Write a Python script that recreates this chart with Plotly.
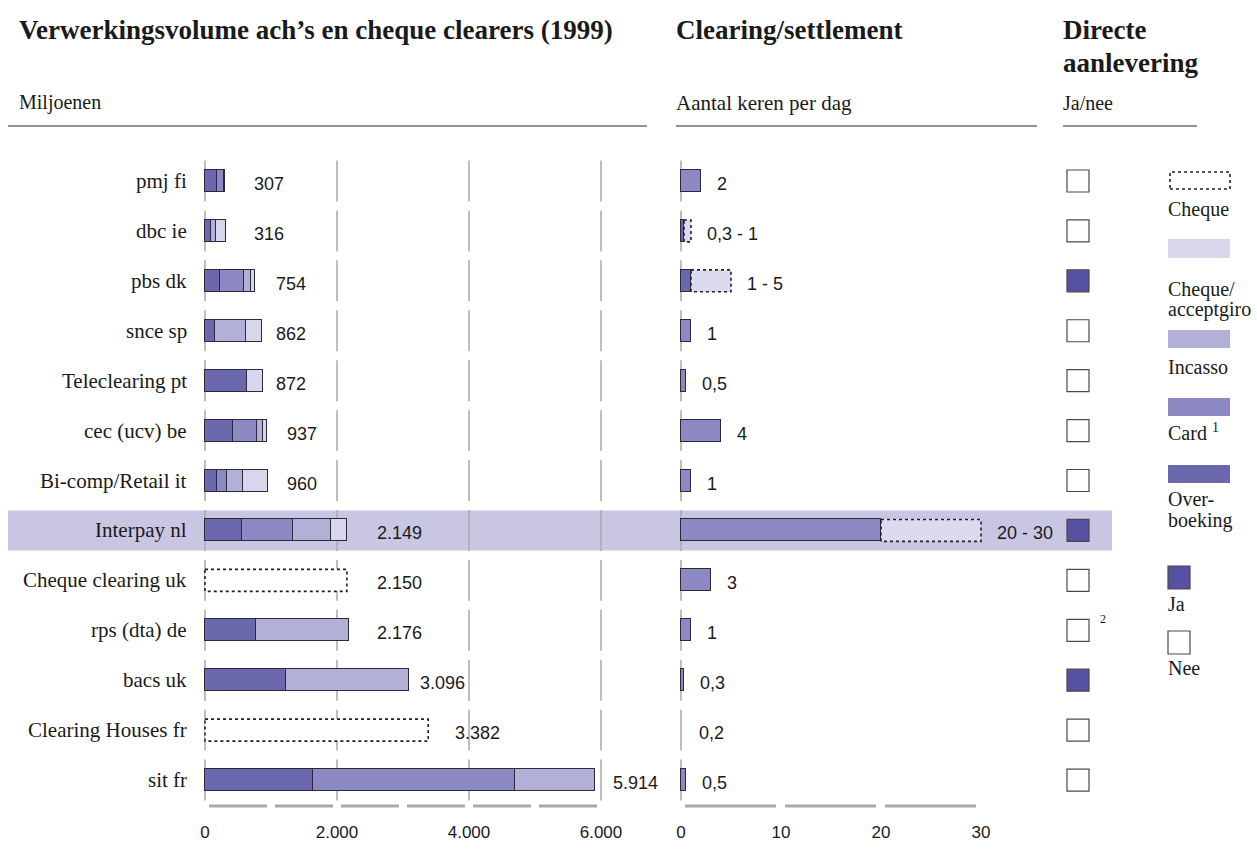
import plotly.graph_objects as go

# ---------------- data ----------------
rows = ["pmj fi", "dbc ie", "pbs dk", "snce sp", "Teleclearing pt", "cec (ucv) be",
        "Bi-comp/Retail it", "Interpay nl", "Cheque clearing uk", "rps (dta) de",
        "bacs uk", "Clearing Houses fr", "sit fr"]
overboeking = [175, 95, 228, 150, 636, 420, 177, 556, 0, 780, 1232, 0, 1630]
card = [112, 0, 357, 0, 0, 365, 152, 773, 0, 0, 0, 0, 3063]
incasso = [20, 65, 109, 473, 0, 101, 242, 586, 0, 1396, 1864, 0, 1221]
cheque_accept = [0, 156, 60, 239, 236, 51, 389, 234, 0, 0, 0, 0, 0]
cheque = [0, 0, 0, 0, 0, 0, 0, 0, 2150, 0, 0, 3382, 0]
totals = [307, 316, 754, 862, 872, 937, 960, 2149, 2150, 2176, 3096, 3382, 5914]

clr_low = [2, 0.3, 1, 1, 0.5, 4, 1, 20, 3, 1, 0.3, 0.2, 0.5]
clr_high = [None, 1, 5, None, None, None, None, 30, None, None, None, None, None]

direct = [False, False, True, False, False, False, False, True, False, False, True, False, False]
footnotes = {"rps (dta) de": "2"}
highlight = "Interpay nl"

vol_ticks = [0, 2000, 4000, 6000]
clr_ticks = [0, 10, 20, 30]

# ---------------- styles ----------------
W, H = 1257, 868
SERIF = "Liberation Serif"
SANS = "Liberation Sans"
TXT = "#1a1a1a"
C_OVER = "#6c68ad"
C_CARD = "#8c88c1"
C_INC = "#b3b0d7"
C_CHQA = "#d8d6eb"
C_RANGE = "#dcdaee"
C_JA = "#5751a3"
C_BAND = "#c9c6e3"
C_GRID = "#a9a9a9"
C_EDGE = "#2b2a3c"

clr_colors = [C_CARD, C_OVER, C_OVER, C_CARD, C_CARD, C_CARD, C_CARD, C_CARD,
              C_CARD, C_CARD, C_CARD, "rgba(0,0,0,0)", C_CARD]
clr_edge_w = [1.1] * 11 + [0] + [1.1]
total_label_dx = [27, 26, 19, 12, 11, 18, 17, 28, 28, 26, 9, 25, 16]

ROW0_PX, ROW_STEP, PLOT_BOTTOM = 181, 49.92, 815
X1_ORIGIN, X1_SCALE = 205, 0.066      # px per million
X2_ORIGIN, X2_SCALE = 681, 10.0       # px per unit
X3_ORIGIN = 1078
BAR_W = 0.44


def px_x(p):
    return p / W


def px_y(p):
    return 1 - p / H


def y_of_px(p):
    return (p - ROW0_PX) / ROW_STEP


n = len(rows)
ypos = list(range(n))


def nz(vals):
    return [v if v else None for v in vals]


def nl_num(v):
    if float(v).is_integer():
        return f"{int(v):,}".replace(",", ".")
    return f"{v:g}".replace(".", ",")


fig = go.Figure()

# ---- volume stacked bars ----
for name, vals, col in [("Overboeking", overboeking, C_OVER), ("Card", card, C_CARD),
                        ("Incasso", incasso, C_INC), ("Cheque/acceptgiro", cheque_accept, C_CHQA)]:
    fig.add_trace(go.Bar(x=nz(vals), y=ypos, orientation="h", width=BAR_W, name=name,
                         marker=dict(color=col, line=dict(color=C_EDGE, width=1.1)),
                         xaxis="x", yaxis="y", showlegend=False, hoverinfo="skip"))
fig.add_trace(go.Bar(x=nz(cheque), y=ypos, orientation="h", width=BAR_W, name="Cheque",
                     marker=dict(color="white", line=dict(width=0)),
                     xaxis="x", yaxis="y", showlegend=False, hoverinfo="skip"))

# ---- clearing bars ----
fig.add_trace(go.Bar(x=clr_low, y=ypos, orientation="h", width=BAR_W,
                     marker=dict(color=clr_colors, line=dict(color=C_EDGE, width=clr_edge_w)),
                     xaxis="x2", yaxis="y", showlegend=False, hoverinfo="skip"))
rng = [(h - l) if h is not None else None for l, h in zip(clr_low, clr_high)]
fig.add_trace(go.Bar(x=rng, y=ypos, orientation="h", width=BAR_W,
                     marker=dict(color=C_RANGE, line=dict(width=0)),
                     xaxis="x2", yaxis="y", showlegend=False, hoverinfo="skip"))

# ---- directe aanlevering squares ----
fig.add_trace(go.Scatter(x=[0] * n, y=ypos, mode="markers", xaxis="x3", yaxis="y",
                         marker=dict(symbol="square", size=22,
                                     color=[C_JA if d else "white" for d in direct],
                                     line=dict(color="#4a4a4a", width=1.2)),
                         showlegend=False, hoverinfo="skip"))

shapes = []
ann = []


def text(t, x, y, size, family=SERIF, bold=False, xanchor="left", xref="paper", yref="paper",
         xshift=0, yshift=0):
    ann.append(dict(text=f"<b>{t}</b>" if bold else t, x=x, y=y, xref=xref, yref=yref,
                    xanchor=xanchor, yanchor="middle", showarrow=False, xshift=xshift,
                    yshift=yshift, font=dict(family=family, size=size, color=TXT)))


# highlight band
hi = rows.index(highlight)
shapes.append(dict(type="rect", xref="paper", yref="y", x0=px_x(8), x1=px_x(1112),
                   y0=hi - 0.4, y1=hi + 0.4, fillcolor=C_BAND, line=dict(width=0), layer="below"))

# broken gridlines per row
for i in ypos:
    for t in vol_ticks:
        shapes.append(dict(type="line", xref="x", yref="y", x0=t, x1=t, y0=i - 0.41, y1=i + 0.41,
                           line=dict(color=C_GRID, width=1.5), layer="below"))
    shapes.append(dict(type="line", xref="x2", yref="y", x0=0, x1=0, y0=i - 0.41, y1=i + 0.41,
                       line=dict(color=C_GRID, width=1.5), layer="below"))

# dotted outlines: cheque volumes and clearing ranges
for i in ypos:
    if cheque[i]:
        start = overboeking[i] + card[i] + incasso[i] + cheque_accept[i]
        shapes.append(dict(type="rect", xref="x", yref="y", x0=start, x1=start + cheque[i],
                           y0=i - BAR_W / 2, y1=i + BAR_W / 2,
                           line=dict(color="#222", width=1.6, dash="dot")))
    if clr_high[i] is not None:
        shapes.append(dict(type="rect", xref="x2", yref="y", x0=clr_low[i], x1=clr_high[i],
                           y0=i - BAR_W / 2, y1=i + BAR_W / 2,
                           line=dict(color="#222", width=1.6, dash="dot")))

# dashed baselines
y_base = y_of_px(806)
for k in range(6):
    shapes.append(dict(type="line", xref="x", yref="y", x0=k * 1000 + 60, x1=(k + 1) * 1000 - 60,
                       y0=y_base, y1=y_base, line=dict(color=C_GRID, width=3)))
for k in range(3):
    shapes.append(dict(type="line", xref="x2", yref="y", x0=k * 10 + 0.4, x1=(k + 1) * 10 - 0.5,
                       y0=y_base, y1=y_base, line=dict(color=C_GRID, width=3)))

# header rules
for a, b in [(8, 647), (676, 1037), (1063, 1197)]:
    shapes.append(dict(type="line", xref="paper", yref="paper", x0=px_x(a), x1=px_x(b),
                       y0=px_y(126), y1=px_y(126), line=dict(color="#6e6e6e", width=1.5)))

# headers
text("Verwerkingsvolume ach\u2019s en cheque clearers (1999)", px_x(17), px_y(30), 27, bold=True)
text("Clearing/settlement", px_x(674), px_y(30), 27, bold=True)
text("Directe", px_x(1061), px_y(30), 27, bold=True)
text("aanlevering", px_x(1061), px_y(63), 27, bold=True)
text("Miljoenen", px_x(17), px_y(103), 20)
text("Aantal keren per dag", px_x(674), px_y(103), 21)
text("Ja/nee", px_x(1061), px_y(103), 20)

# row labels and value labels
for i, r in enumerate(rows):
    text(r, px_x(189), i, 21, xanchor="right", yref="y")
    ann.append(dict(text=nl_num(totals[i]), x=totals[i], y=i, xref="x", yref="y",
                    xanchor="left", yanchor="middle", showarrow=False,
                    xshift=total_label_dx[i], yshift=-3,
                    font=dict(family=SANS, size=18, color=TXT)))
    top = clr_high[i] if clr_high[i] is not None else clr_low[i]
    lbl = nl_num(clr_low[i]) + (f" - {nl_num(clr_high[i])}" if clr_high[i] is not None else "")
    ann.append(dict(text=lbl, x=top, y=i, xref="x2", yref="y", xanchor="left",
                    yanchor="middle", showarrow=False, xshift=14, yshift=-3,
                    font=dict(family=SANS, size=18, color=TXT)))
    if r in footnotes:
        ann.append(dict(text=footnotes[r], x=0, y=i, xref="x3", yref="y", xanchor="left",
                        yanchor="middle", showarrow=False, xshift=20, yshift=11,
                        font=dict(family=SERIF, size=12, color=TXT)))

# legend (right)
LX0, LX1 = 1168, 1230
shapes.append(dict(type="rect", xref="paper", yref="paper", x0=px_x(LX0 + 2), x1=px_x(LX1),
                   y0=px_y(189), y1=px_y(172), line=dict(color="#222", width=1.6, dash="dot")))
for (y0, y1, col) in [(239, 258, C_CHQA), (330, 348, C_INC), (398, 416, C_CARD), (465, 483, C_OVER)]:
    shapes.append(dict(type="rect", xref="paper", yref="paper", x0=px_x(LX0), x1=px_x(LX1),
                       y0=px_y(y1), y1=px_y(y0), fillcolor=col, line=dict(width=0)))
for (y0, y1, col) in [(566, 589, C_JA), (631, 654, "white")]:
    shapes.append(dict(type="rect", xref="paper", yref="paper", x0=px_x(LX0), x1=px_x(LX0 + 22),
                       y0=px_y(y1), y1=px_y(y0), fillcolor=col, line=dict(color="#4a4a4a", width=1.2)))
for t, yp in [("Cheque", 209), ("Cheque/", 289), ("acceptgiro", 309), ("Incasso", 367),
              ("Card <sup>1</sup>", 432), ("Over-", 499), ("boeking", 520), ("Ja", 604), ("Nee", 668)]:
    text(t, px_x(1166), px_y(yp), 20)

axis_common = dict(showgrid=False, zeroline=False, showline=False, fixedrange=True)
fig.update_layout(
    width=W, height=H, margin=dict(l=0, r=0, t=0, b=0),
    paper_bgcolor="white", plot_bgcolor="white",
    barmode="stack", bargap=0, separators=",.",
    showlegend=False,
    xaxis=dict(domain=[0, 1], range=[-X1_ORIGIN / X1_SCALE, (W - X1_ORIGIN) / X1_SCALE],
               tickvals=vol_ticks, tickformat=",d", ticks="outside", ticklen=2,
               tickcolor="rgba(0,0,0,0)", tickfont=dict(family=SANS, size=17, color=TXT),
               anchor="y", **axis_common),
    xaxis2=dict(domain=[0, 1], range=[-X2_ORIGIN / X2_SCALE, (W - X2_ORIGIN) / X2_SCALE],
                tickvals=clr_ticks, ticks="outside", ticklen=2, tickcolor="rgba(0,0,0,0)",
                tickfont=dict(family=SANS, size=17, color=TXT), overlaying="x", anchor="y",
                **axis_common),
    xaxis3=dict(domain=[0, 1], range=[-X3_ORIGIN, W - X3_ORIGIN], showticklabels=False,
                overlaying="x", anchor="y", **axis_common),
    yaxis=dict(domain=[(H - PLOT_BOTTOM) / H, 1],
               range=[y_of_px(PLOT_BOTTOM), y_of_px(0)], showticklabels=False, **axis_common),
    shapes=shapes, annotations=ann,
)

fig.write_html("out.html")
